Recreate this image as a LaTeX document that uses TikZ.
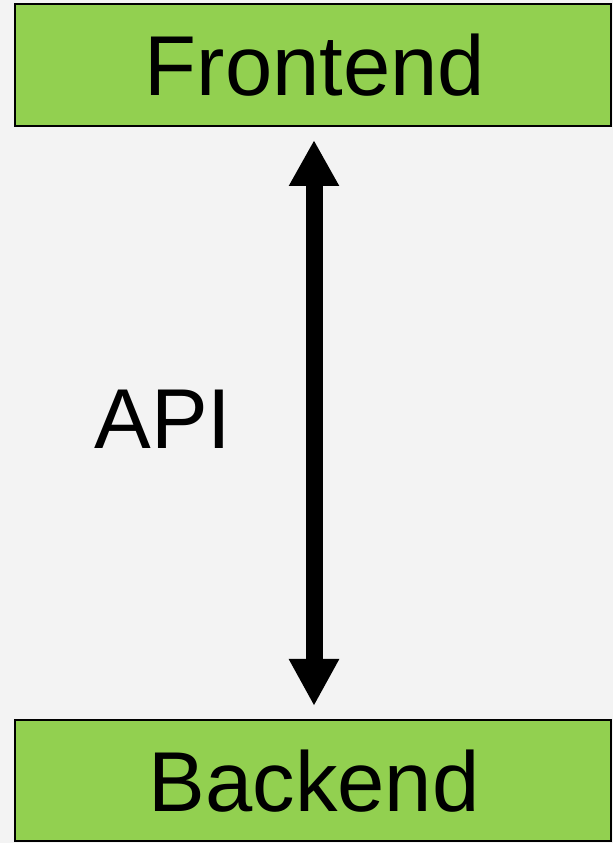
\documentclass[tikz,border=0pt]{standalone}
\usepackage{fontspec}
\setmainfont{Liberation Sans}
\usetikzlibrary{arrows.meta}
\definecolor{bg}{HTML}{F3F3F3}
\definecolor{boxgreen}{HTML}{92D050}
\begin{document}
\begin{tikzpicture}[x=1pt,y=1pt,
  greenbox/.style={draw=black,line width=2pt,fill=boxgreen},
  bigtext/.style={font=\fontsize{85}{90}\selectfont,inner sep=0pt,anchor=base}]
\fill[bg] (0,0) rectangle (613,843);
\useasboundingbox (0,0) rectangle (613,843);
\node[greenbox,minimum width=596pt,minimum height=122pt,inner sep=0pt] (fe) at (313,778) {};
\node[greenbox,minimum width=596pt,minimum height=121pt,inner sep=0pt] (be) at (313,62.5) {};
\node[bigtext] (fet) at (315,747) {Frontend};
\node[bigtext] (bet) at (314,31) {Backend};
\node[bigtext] (api) at (163,394) {API};
\draw[line width=17pt,{Triangle[width=47pt,length=46pt]}-{Triangle[width=47pt,length=47pt]},
  shorten <=13pt,shorten >=13pt] (fe.south -| 314,0) -- (be.north -| 314,0);
\end{tikzpicture}
\end{document}
